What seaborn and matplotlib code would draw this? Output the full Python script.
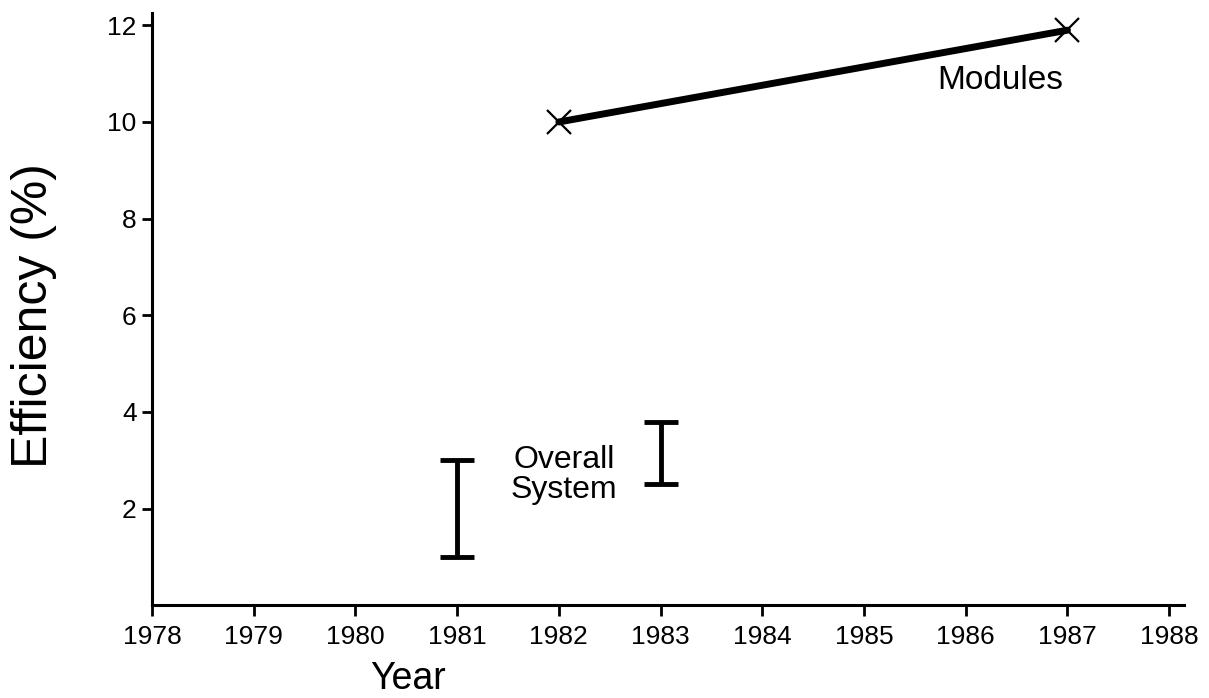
import numpy as np
import pandas as pd
import seaborn as sns
import matplotlib
matplotlib.use("Agg")
import matplotlib.pyplot as plt

# Module efficiency (line with X markers)
module_years = [1982, 1987]
module_eff = [10.0, 11.9]

# Overall system efficiency ranges (low/high)
system_years = [1981, 1983]
system_low = [1.0, 2.5]
system_high = [3.0, 3.8]

year_ticks = list(range(1978, 1989))
eff_ticks = [2, 4, 6, 8, 10, 12]

sns.set_style("ticks")
plt.rcParams["font.family"] = ["Liberation Sans", "DejaVu Sans"]
plt.rcParams.update({"text.color": "black", "axes.labelcolor": "black",
                     "xtick.color": "black", "ytick.color": "black",
                     "axes.edgecolor": "black"})

fig = plt.figure(figsize=(12.09, 6.98), dpi=100)
ax = fig.add_axes([0.1257, 0.133, 0.854, 0.848])

modules = pd.DataFrame({"Year": module_years, "Efficiency": module_eff})
sns.lineplot(data=modules, x="Year", y="Efficiency", ax=ax, color="black",
             linewidth=5, marker="x", markersize=17, markeredgewidth=1.6,
             markeredgecolor="black")

lo = np.array(system_low)
hi = np.array(system_high)
mid = (lo + hi) / 2
ax.errorbar(system_years, mid, yerr=[mid - lo, hi - mid], fmt="none",
            ecolor="black", elinewidth=3.5, capsize=12, capthick=3.5)

ax.text(1986.34, 10.85, "Modules", fontsize=24, ha="center", va="center")
ax.text(1982.05, 2.7, "Overall\nSystem", fontsize=23, ha="center", va="center",
        linespacing=1.0)

ax.set_xlim(1978, 1988.15)
ax.set_ylim(0, 12.25)
ax.set_xticks(year_ticks)
ax.set_yticks(eff_ticks)
ax.tick_params(axis="x", labelsize=19, length=8, width=2, direction="out", pad=6)
ax.tick_params(axis="y", labelsize=19, length=7, width=2, direction="out", pad=4)

for s in ["top", "right"]:
    ax.spines[s].set_visible(False)
for s in ["left", "bottom"]:
    ax.spines[s].set_linewidth(2.2)

ax.set_xlabel("Year", fontsize=27)
ax.xaxis.set_label_coords(0.248, -0.095)
ax.set_ylabel("Efficiency (%)", fontsize=36)
ax.yaxis.set_label_coords(-0.092, 0.49)

fig.savefig("out.png", dpi=100)
